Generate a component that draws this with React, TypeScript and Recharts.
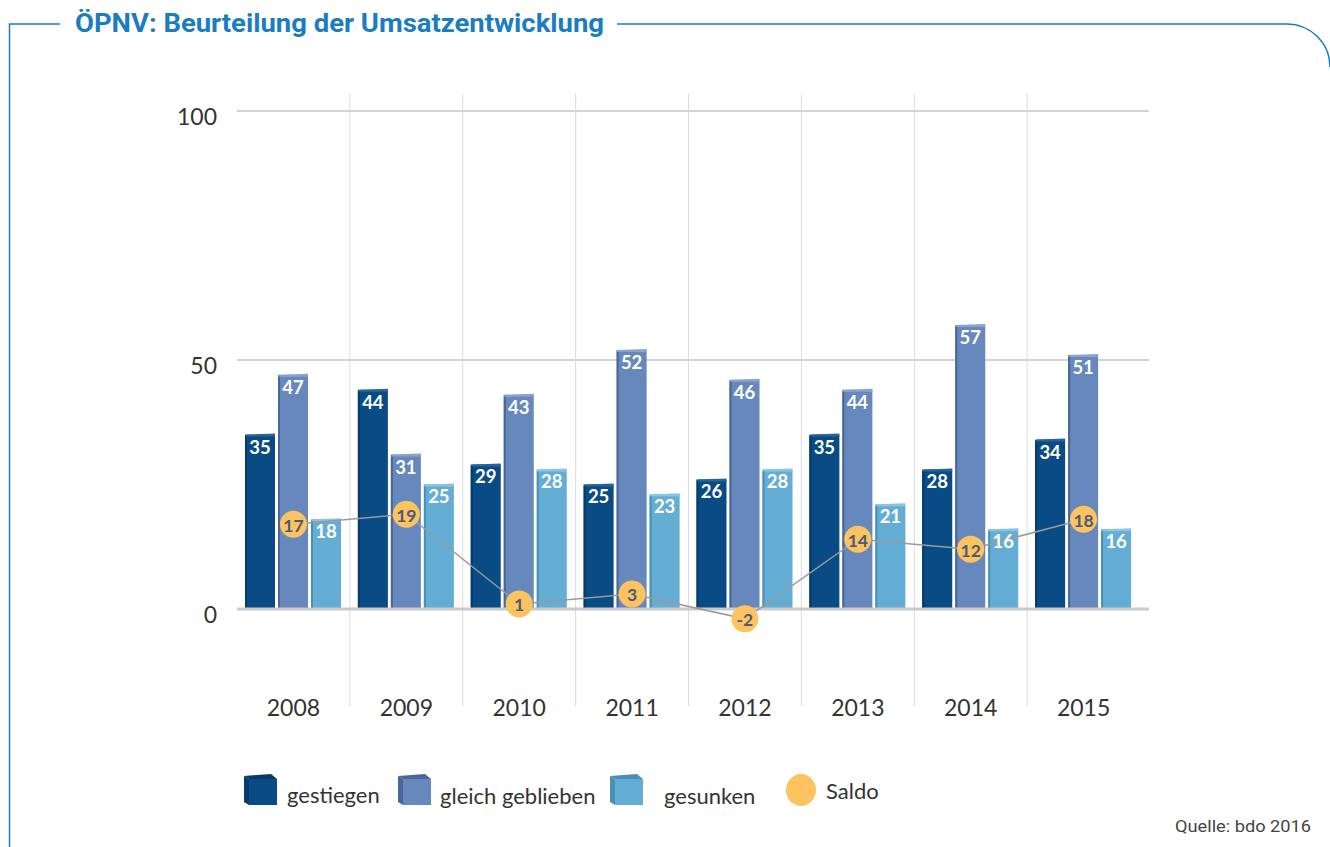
import React from "react";
import {
  Bar,
  CartesianGrid,
  ComposedChart,
  LabelList,
  Line,
  ReferenceLine,
  XAxis,
  YAxis,
} from "recharts";

const years = ["2008", "2009", "2010", "2011", "2012", "2013", "2014", "2015"];
const gestiegen = [35, 44, 29, 25, 26, 35, 28, 34];
const gleichGeblieben = [47, 31, 43, 52, 46, 44, 57, 51];
const gesunken = [18, 25, 28, 23, 28, 21, 16, 16];
const saldo = [17, 19, 1, 3, -2, 14, 12, 18];
const yTicks = [0, 50, 100];
const yDomain = [-19.5, 103.5];

const data = years.map((year, i) => ({
  year,
  gestiegen: gestiegen[i],
  gleich: gleichGeblieben[i],
  gesunken: gesunken[i],
  saldo: saldo[i],
}));

const BLUE = "#1a7cc1";
const AXIS_FONT = "Lato, 'Open Sans', sans-serif";

const palette = {
  gestiegen: { face: "#084b85", side: "#063a69", top: "#2a6398" },
  gleich: { face: "#6788bc", side: "#4a6699", top: "#8aa3cc" },
  gesunken: { face: "#64aed6", side: "#4a8fb5", top: "#8cc3e2" },
};

const PLOT_RIGHT_PAD = 9;

function Block(props: any) {
  const { x, y, width, height, colors } = props;
  if (!height || height <= 0) return null;
  return (
    <g>
      <rect x={x} y={y} width={width} height={height} fill={colors.face} />
      <rect x={x} y={y + 1} width={2} height={height - 1} fill={colors.side} />
      <polygon
        points={`${x},${y + 2} ${x + 2},${y} ${x + width},${y - 1} ${x + width},${y + 2}`}
        fill={colors.top}
      />
    </g>
  );
}

function barLabel(p: any) {
  const { x, y, width, value } = p;
  return (
    <text
      x={x + width / 2}
      y={y + 12}
      textAnchor="middle"
      dominantBaseline="central"
      fill="#ffffff"
      fontFamily={AXIS_FONT}
      fontWeight={700}
      fontSize={18.5}
    >
      {value}
    </text>
  );
}

function SaldoDot(p: any) {
  const { cx, cy, value, index } = p;
  return (
    <g key={`saldo-${index}`}>
      <circle cx={cx} cy={cy} r={13.5} fill="#fcc360" />
      <text
        x={cx}
        y={cy + 1}
        textAnchor="middle"
        dominantBaseline="central"
        fill="#4b5a78"
        fontFamily={AXIS_FONT}
        fontWeight={700}
        fontSize={17.5}
      >
        {value}
      </text>
    </g>
  );
}

function YTick(p: any) {
  const { x, y, payload } = p;
  return (
    <text
      x={x}
      y={y + 6}
      dy="0.355em"
      textAnchor="end"
      fill="#333"
      fontFamily={AXIS_FONT}
      fontSize={23}
    >
      {payload.value}
    </text>
  );
}

function XTick(p: any) {
  const { x, y, payload } = p;
  return (
    <text
      x={x}
      y={y - 6}
      dy="0.355em"
      textAnchor="middle"
      fill="#333"
      fontFamily={AXIS_FONT}
      fontSize={23}
    >
      {payload.value}
    </text>
  );
}

// category boundaries for the vertical separators
function boundaries({ offset }: any) {
  const band = (offset.width - PLOT_RIGHT_PAD) / years.length;
  return years.slice(1).map((_, i) => offset.left + band * (i + 1));
}

// horizontal grid only at 50 and 100 (0 gets its own heavier line)
function gridRows({ offset }: any) {
  const [lo, hi] = yDomain;
  return yTicks
    .filter((t) => t > 0)
    .map((t) => offset.top + ((hi - t) / (hi - lo)) * offset.height);
}

function Cube({ x, y, colors }: { x: number; y: number; colors: any }) {
  return (
    <g>
      <polygon
        points={`${x},${y + 2} ${x + 5},${y + 5} ${x + 5},${y + 31} ${x},${y + 28}`}
        fill={colors.side}
      />
      <polygon
        points={`${x},${y + 2} ${x + 27},${y} ${x + 33},${y + 5} ${x + 5},${y + 5}`}
        fill={colors.side}
      />
      <rect x={x + 5} y={y + 5} width={28} height={26} fill={colors.face} />
    </g>
  );
}

function Overlay() {
  const legendText = {
    fontFamily: AXIS_FONT,
    fontSize: 22,
    fill: "#333",
  } as const;
  return (
    <svg
      width={1330}
      height={847}
      style={{ position: "absolute", left: 0, top: 0, pointerEvents: "none" }}
    >
      <path
        d="M 9.5 847 L 9.5 24 L 60 24 M 617 24 L 1287 24 A 43 43 0 0 1 1330 67"
        fill="none"
        stroke={BLUE}
        strokeWidth={1.5}
      />
      <text
        x={75}
        y={32}
        textLength={529}
        lengthAdjust="spacingAndGlyphs"
        fill={BLUE}
        fontFamily="Roboto, sans-serif"
        fontWeight={700}
        fontSize={25}
      >
        ÖPNV: Beurteilung der Umsatzentwicklung
      </text>

      <Cube x={244} y={774} colors={palette.gestiegen} />
      <text x={287} y={795} dy="0.355em" {...legendText}>
        gestiegen
      </text>
      <Cube x={398} y={774} colors={palette.gleich} />
      <text x={440} y={796} dy="0.355em" {...legendText}>
        gleich geblieben
      </text>
      <Cube x={610} y={774} colors={palette.gesunken} />
      <text x={664} y={796} dy="0.355em" {...legendText}>
        gesunken
      </text>
      <ellipse cx={801} cy={790} rx={15} ry={16} fill="#fcc360" />
      <text x={826} y={791} dy="0.355em" {...legendText}>
        Saldo
      </text>

      <text
        x={1311}
        y={826}
        dy="0.355em"
        textAnchor="end"
        fill="#444"
        fontFamily="Roboto, sans-serif"
        fontSize={16}
        textLength={136}
        lengthAdjust="spacingAndGlyphs"
      >
        Quelle: bdo 2016
      </text>
    </svg>
  );
}

export default function App() {
  return (
    <div
      style={{
        position: "absolute",
        left: 0,
        top: 0,
        width: 1330,
        height: 847,
        background: "#fff",
        overflow: "hidden",
      }}
    >
      <ComposedChart
        width={1330}
        height={847}
        data={data}
        margin={{ top: 93.5, right: 181, bottom: 111, left: 0 }}
        barSize={30}
        barGap={3}
      >
        <CartesianGrid
          stroke="#dcdcdc"
          strokeWidth={1}
          horizontal={false}
          verticalCoordinatesGenerator={boundaries}
        />
        <CartesianGrid
          stroke="#d4d4d4"
          strokeWidth={2}
          vertical={false}
          horizontalCoordinatesGenerator={gridRows}
        />
        <XAxis
          dataKey="year"
          height={30}
          axisLine={false}
          tickLine={false}
          padding={{ left: 0, right: PLOT_RIGHT_PAD }}
          tick={<XTick />}
          interval={0}
        />
        <YAxis
          width={237}
          domain={yDomain}
          ticks={yTicks}
          axisLine={false}
          tickLine={false}
          tickMargin={14}
          tick={<YTick />}
        />
        <Bar
          dataKey="gestiegen"
          isAnimationActive={false}
          shape={(p: any) => <Block {...p} colors={palette.gestiegen} />}
        >
          <LabelList dataKey="gestiegen" content={barLabel} />
        </Bar>
        <Bar
          dataKey="gleich"
          isAnimationActive={false}
          shape={(p: any) => <Block {...p} colors={palette.gleich} />}
        >
          <LabelList dataKey="gleich" content={barLabel} />
        </Bar>
        <Bar
          dataKey="gesunken"
          isAnimationActive={false}
          shape={(p: any) => <Block {...p} colors={palette.gesunken} />}
        >
          <LabelList dataKey="gesunken" content={barLabel} />
        </Bar>
        <ReferenceLine y={0} stroke="#cacaca" strokeWidth={3} />
        <Line
          dataKey="saldo"
          stroke="#9a9a9a"
          strokeWidth={1.5}
          dot={SaldoDot}
          activeDot={false}
          isAnimationActive={false}
        />
      </ComposedChart>
      <Overlay />
    </div>
  );
}
